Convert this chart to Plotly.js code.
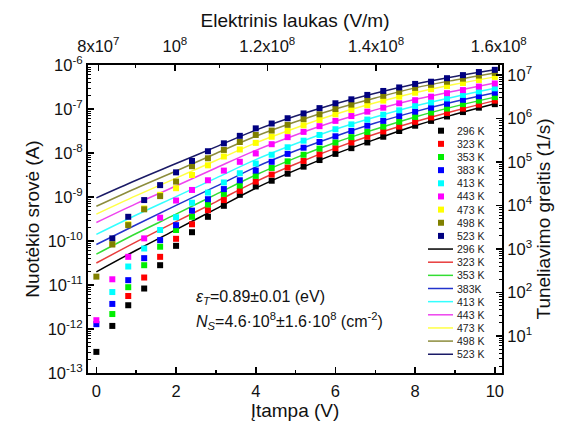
<!DOCTYPE html>
<html><head><meta charset="utf-8">
<script src="https://cdn.plot.ly/plotly-3.0.1.min.js"></script>
<style>html,body{margin:0;padding:0;background:#fff}#chart{width:570px;height:428px}</style>
</head><body><div id="chart"></div>
<script>
// ---- data (log10 of current in A) ----
const pointLabels = ['296 K','323 K','353 K','383 K','413 K','443 K','473 K','498 K','523 K'];
const lineLabels  = ['296 K','323 K','353 K','383K','413 K','443 K','473 K','498 K','523 K'];
const colors = ['#000000','#ff0000','#00ee00','#0000ff','#00ffff','#ff00ff','#ffff00','#808000','#000080'];
const lineColors = ['#000000','#e83c3c','#33dd33','#2233cc','#33ffff','#ee44ee','#ffff44','#8c8c3c','#1a1a66'];

const voltsPoints = [0,0.4,0.8,1.2,1.6,2.0,2.4,2.8,3.2,3.6,4.0,4.4,4.8,5.2,5.6,6.0,6.4,6.8,7.2,7.6,8.0,8.4,8.8,9.2,9.6,10.0];
const voltsFit = [0,1,2,3,4,5,6,7,8,9,10];

const pts296 = [-12.52,-11.93,-11.46,-11.08,-10.55,-10.11,-9.80,-9.45,-9.20,-8.95,-8.76,-8.63,-8.47,-8.31,-8.16,-8.02,-7.89,-7.76,-7.63,-7.50,-7.38,-7.27,-7.17,-7.07,-6.97,-6.89];
const pts323 = [null,null,-11.25,-10.83,-10.36,-9.95,-9.62,-9.30,-9.07,-8.86,-8.65,-8.49,-8.33,-8.18,-8.03,-7.89,-7.76,-7.63,-7.51,-7.40,-7.29,-7.19,-7.09,-6.99,-6.90,-6.81];
const pts353 = [null,-11.66,-11.05,-10.55,-10.13,-9.75,-9.45,-9.17,-8.93,-8.74,-8.52,-8.34,-8.19,-8.04,-7.90,-7.76,-7.64,-7.52,-7.40,-7.29,-7.18,-7.08,-6.99,-6.89,-6.81,-6.73];
const pts383 = [-11.89,-11.43,-10.89,-10.39,-9.98,-9.64,-9.31,-9.05,-8.82,-8.62,-8.40,-8.20,-8.02,-7.88,-7.75,-7.62,-7.50,-7.38,-7.27,-7.16,-7.06,-6.97,-6.88,-6.79,-6.71,-6.63];
const pts413 = [null,-11.16,-10.58,-10.17,-9.75,-9.46,-9.13,-8.90,-8.67,-8.46,-8.24,-8.04,-7.87,-7.72,-7.59,-7.46,-7.35,-7.24,-7.13,-7.03,-6.93,-6.85,-6.76,-6.68,-6.60,-6.53];
const pts443 = [-11.80,-10.87,-10.36,-9.94,-9.47,-9.08,-8.84,-8.62,-8.40,-8.20,-8.01,-7.80,-7.64,-7.52,-7.39,-7.27,-7.16,-7.06,-6.97,-6.87,-6.80,-6.72,-6.64,-6.57,-6.49,-6.42];
const pts473 = [null,-10.06,-9.62,-9.26,-8.95,-8.80,-8.50,-8.28,-8.08,-7.92,-7.77,-7.63,-7.50,-7.37,-7.25,-7.12,-7.02,-6.91,-6.81,-6.72,-6.63,-6.55,-6.48,-6.41,-6.34,-6.27];
const pts498 = [-10.81,-10.08,-9.64,-9.28,-8.98,-8.65,-8.30,-8.12,-7.93,-7.75,-7.59,-7.49,-7.36,-7.23,-7.12,-7.00,-6.90,-6.80,-6.70,-6.61,-6.52,-6.45,-6.38,-6.31,-6.24,-6.18];
const pts523 = [null,-9.94,-9.45,-9.07,-8.73,-8.44,-8.18,-7.96,-7.78,-7.61,-7.44,-7.33,-7.21,-7.10,-6.98,-6.87,-6.78,-6.68,-6.59,-6.51,-6.43,-6.38,-6.30,-6.23,-6.16,-6.11];

const fit296 = [-10.70,-10.21,-9.74,-9.27,-8.80,-8.39,-8.02,-7.69,-7.38,-7.12,-6.88];
const fit323 = [-10.50,-10.02,-9.56,-9.11,-8.65,-8.25,-7.89,-7.57,-7.29,-7.04,-6.81];
const fit353 = [-10.30,-9.83,-9.39,-8.94,-8.50,-8.11,-7.76,-7.46,-7.18,-6.94,-6.73];
const fit383 = [-10.08,-9.63,-9.19,-8.76,-8.32,-7.95,-7.62,-7.32,-7.06,-6.83,-6.63];
const fit413 = [-9.85,-9.41,-8.99,-8.57,-8.15,-7.79,-7.46,-7.18,-6.93,-6.72,-6.53];
const fit443 = [-9.58,-9.15,-8.75,-8.34,-7.94,-7.59,-7.28,-7.02,-6.78,-6.59,-6.41];
const fit473 = [-9.39,-8.97,-8.57,-8.17,-7.77,-7.43,-7.12,-6.86,-6.63,-6.44,-6.27];
const fit498 = [-9.21,-8.80,-8.41,-8.01,-7.62,-7.29,-7.00,-6.75,-6.52,-6.34,-6.18];
const fit523 = [-9.02,-8.62,-8.24,-7.86,-7.48,-7.16,-6.88,-6.64,-6.43,-6.26,-6.11];

// axis ticks
const currentTickVals = [1e-13,1e-12,1e-11,1e-10,1e-9,1e-8,1e-7,1e-6];
const currentTickText = ['10<sup>-13</sup>','10<sup>-12</sup>','10<sup>-11</sup>','10<sup>-10</sup>','10<sup>-9</sup>','10<sup>-8</sup>','10<sup>-7</sup>','10<sup>-6</sup>'];
const rateTickVals = [1e1,1e2,1e3,1e4,1e5,1e6,1e7];
const rateTickText = ['10<sup>1</sup>','10<sup>2</sup>','10<sup>3</sup>','10<sup>4</sup>','10<sup>5</sup>','10<sup>6</sup>','10<sup>7</sup>'];
// top axis (electric field) tick positions on the voltage scale
const fieldTickPos = [0.05,1.97,4.29,7.02,10.1];
const fieldTickText = ['8x10<sup>7</sup>','10<sup>8</sup>','1.2x10<sup>8</sup>','1.4x10<sup>8</sup>','1.6x10<sup>8</sup>'];
const fieldMinorPos = [0.98,3.09,5.62,8.57];

const pointSeries = [pts296,pts323,pts353,pts383,pts413,pts443,pts473,pts498,pts523];
const fitSeries = [fit296,fit323,fit353,fit383,fit413,fit443,fit473,fit498,fit523];

const toA = a => a.map(v => v === null ? null : Math.pow(10, v));

const traces = [];
fitSeries.forEach((s,i) => traces.push({
  x: voltsFit, y: toA(s), type:'scatter', mode:'lines',
  line:{color: lineColors[i], width:1.5, shape:'spline', smoothing:1},
  name: lineLabels[i], showlegend:false, hoverinfo:'skip'
}));
pointSeries.forEach((s,i) => traces.push({
  x: voltsPoints, y: toA(s), type:'scatter', mode:'markers',
  marker:{symbol:'square', size:6, color: colors[i], line:{width:0}},
  name: pointLabels[i], showlegend:false, cliponaxis:false
}));
// empty carriers so the top and right axes are drawn
traces.push({x:[], y:[], xaxis:'x2', yaxis:'y', type:'scatter', mode:'markers', showlegend:false, hoverinfo:'skip'});
traces.push({x:[], y:[], xaxis:'x', yaxis:'y2', type:'scatter', mode:'markers', showlegend:false, hoverinfo:'skip'});

// ---- layout helpers (pixel -> paper) ----
const PL=88, PR=502, PT=65, PB=373;
const px = x => (x-PL)/(PR-PL);
const py = y => (PB-y)/(PB-PT);

const FONT = 'Liberation Sans, Arial, sans-serif';
const shapes = [], annotations = [];
const rowY0 = 130.7, rowDy = 13.15;
pointLabels.forEach((lab,i) => {
  const y = rowY0 + rowDy*i;
  shapes.push({type:'rect', xref:'paper', yref:'paper', x0:px(438), x1:px(444), y0:py(y+3), y1:py(y-3),
    fillcolor: colors[i], line:{width:0}});
  annotations.push({xref:'paper', yref:'paper', x:px(455), y:py(y), xanchor:'left', yanchor:'middle',
    text: lab, showarrow:false, font:{family:FONT, size:10.5, color:'#222'}});
});
lineLabels.forEach((lab,i) => {
  const y = rowY0 + rowDy*(i+9);
  shapes.push({type:'line', xref:'paper', yref:'paper', x0:px(428), x1:px(453), y0:py(y), y1:py(y),
    line:{color: lineColors[i], width:1.5}});
  annotations.push({xref:'paper', yref:'paper', x:px(455), y:py(y), xanchor:'left', yanchor:'middle',
    text: lab, showarrow:false, font:{family:FONT, size:10.5, color:'#222'}});
});
annotations.push({xref:'paper', yref:'paper', x:px(194), y:py(297), xanchor:'left', yanchor:'middle', showarrow:false,
  text:'<i>ε</i><sub><i>T</i></sub>=0.89±0.01 (eV)', font:{family:FONT, size:16, color:'#111'}});
annotations.push({xref:'paper', yref:'paper', x:px(194), y:py(321), xanchor:'left', yanchor:'middle', showarrow:false,
  text:'<i>N</i><sub><i>S</i></sub>=4.6·10<sup>8</sup>±1.6·10<sup>8</sup> (cm<sup>-2</sup>)', font:{family:FONT, size:16, color:'#111'}});

const TF = {family:FONT, size:16.5, color:'#111'};
const TTF = {family:FONT, size:19, color:'#111'};
const axCommon = {showline:true, linecolor:'#000', linewidth:2, ticks:'inside', tickcolor:'#000', tickwidth:1.5,
  ticklen:6, showgrid:false, zeroline:false, tickfont:TF};
const logMinor = {ticks:'inside', ticklen:3, tickwidth:1, tickcolor:'#000', dtick:'D1'};

const layout = {
  width:570, height:428, margin:{l:PL, r:570-PR, t:PT, b:428-PB},
  paper_bgcolor:'#fff', plot_bgcolor:'#fff', showlegend:false,
  font:{family:FONT, color:'#111'},
  xaxis: Object.assign({}, axCommon, {range:[-0.21,10.18], dtick:2, tick0:0, ticklabelstandoff:2,
    minor:{ticks:'inside', ticklen:3, tickwidth:1.5, tickcolor:'#000', dtick:1},
    title:{text:'Įtampa (V)', font:TTF, standoff:3}}),
  xaxis2: Object.assign({}, axCommon, {overlaying:'x', side:'top', anchor:'y', range:[-0.21,10.18],
    tickmode:'array', tickvals:fieldTickPos, ticktext:fieldTickText, ticklabelstandoff:4,
    minor:{ticks:'inside', ticklen:3, tickwidth:1.5, tickcolor:'#000', tickmode:'array', tickvals:fieldMinorPos},
    title:{text:'Elektrinis laukas (V/m)', font:TTF, standoff:3}}),
  yaxis: Object.assign({}, axCommon, {type:'log', range:[-13,-6], tickmode:'array',
    tickvals:currentTickVals, ticktext:currentTickText, minor:logMinor,
    title:{text:'Nuotėkio srovė (A)', font:TTF, standoff:3}}),
  yaxis2: Object.assign({}, axCommon, {type:'log', overlaying:'y', side:'right', anchor:'x', range:[0.15,7.23],
    tickmode:'array', tickvals:rateTickVals, ticktext:rateTickText, minor:logMinor,
    title:{text:'Tuneliavimo greitis (1/s)', font:TTF, standoff:4}}),
  shapes: shapes, annotations: annotations
};

Plotly.newPlot('chart', traces, layout, {staticPlot:true, displayModeBar:false});
</script></body></html>
